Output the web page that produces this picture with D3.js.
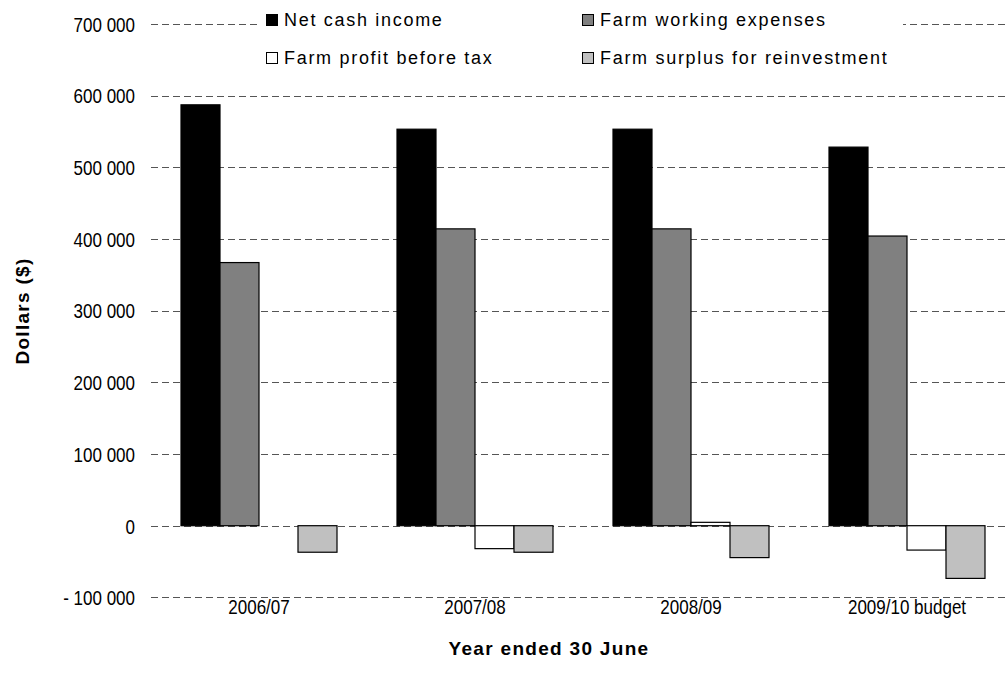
<!DOCTYPE html>
<html>
<head>
<meta charset="utf-8">
<script src="https://cdn.jsdelivr.net/npm/d3@7"></script>
<style>
  html, body { margin: 0; padding: 0; background: #fff; }
  svg { display: block; }
  .tick-label { font-family: "Liberation Sans", Arial, sans-serif; font-size: 21px; fill: #000; }
  .legend-label { font-family: "Liberation Sans", Arial, sans-serif; font-size: 18px; fill: #000; letter-spacing: 1.7px; }
  .axis-title { font-family: "Liberation Sans", Arial, sans-serif; font-size: 19px; font-weight: bold; fill: #000; letter-spacing: 1.3px; }
</style>
</head>
<body>
<script>
// Farm cash results by year
const years = ["2006/07", "2007/08", "2008/09", "2009/10 budget"];
const seriesNames = ["Net cash income", "Farm working expenses", "Farm profit before tax", "Farm surplus for reinvestment"];
const netCashIncome = [587000, 553000, 553000, 528000];
const farmWorkingExpenses = [367000, 414000, 414000, 404000];
const farmProfitBeforeTax = [0, -32000, 4700, -34000];
const farmSurplus = [-37000, -37000, -44500, -73500];
const yTicks = [-100000, 0, 100000, 200000, 300000, 400000, 500000, 600000, 700000];
const seriesColors = ["#000000", "#808080", "#ffffff", "#c0c0c0"];

const seriesValues = [netCashIncome, farmWorkingExpenses, farmProfitBeforeTax, farmSurplus];

const W = 1008, H = 684;
const plot = { left: 151, right: 1015, top: 23.8, bottom: 597.4 };
const narrow = 0.81; // horizontal squeeze for the condensed tick labels

const svg = d3.select("body").append("svg").attr("width", W).attr("height", H);

const y = d3.scaleLinear().domain([-100000, 700000]).range([plot.bottom, plot.top]);
const x0 = d3.scaleBand().domain(years).range([plot.left, plot.right]).paddingInner(60 / 216).paddingOuter(30 / 216);
const x1 = d3.scaleBand().domain(d3.range(seriesNames.length)).range([0, x0.bandwidth()]);

const fmt = v => {
  const s = d3.format(",")(Math.abs(v)).replace(/,/g, " ");
  return v < 0 ? "- " + s : s;
};

// Dashed gridlines
svg.append("g").selectAll("line").data(yTicks).join("line")
  .attr("x1", plot.left).attr("x2", plot.right)
  .attr("y1", d => Math.round(y(d)) + 0.5).attr("y2", d => Math.round(y(d)) + 0.5)
  .attr("stroke", "#555").attr("stroke-width", 1)
  .attr("stroke-dasharray", "7,4");

// Y axis labels
const yAxis = d3.axisLeft(y).tickValues(yTicks).tickFormat(fmt).tickSize(0).tickPadding(0);
const yg = svg.append("g").attr("transform", `translate(135,0)`).call(yAxis);
yg.select(".domain").remove();
yg.selectAll("text").attr("class", "tick-label").attr("font-family", null).attr("font-size", null)
  .attr("dy", "0.35em").attr("transform", `scale(${narrow},1)`);

// Bars
const groups = svg.append("g").selectAll("g").data(years).join("g")
  .attr("transform", d => `translate(${x0(d)},0)`);
groups.selectAll("rect")
  .data((d, i) => seriesValues.map((vals, s) => ({ s, v: vals[i] })).filter(e => e.v !== 0))
  .join("rect")
  .attr("x", d => x1(d.s))
  .attr("width", x1.bandwidth())
  .attr("y", d => Math.min(y(d.v), y(0)))
  .attr("height", d => Math.abs(y(d.v) - y(0)))
  .attr("fill", d => seriesColors[d.s])
  .attr("stroke", "#000")
  .attr("stroke-width", 1.2);

// X axis labels
const xAxis = d3.axisBottom(x0).tickSize(0).tickPadding(0);
const xg = svg.append("g").attr("transform", `translate(0,607)`).call(xAxis);
xg.select(".domain").remove();
xg.selectAll("text").attr("class", "tick-label").attr("font-family", null).attr("font-size", null)
  .attr("dy", "0.35em").attr("transform", `scale(${narrow},1)`);

// Axis titles
svg.append("text").attr("class", "axis-title")
  .attr("transform", "translate(29,311) rotate(-90)")
  .attr("text-anchor", "middle").text("Dollars ($)");
svg.append("text").attr("class", "axis-title")
  .attr("x", 549).attr("y", 655).attr("text-anchor", "middle").text("Year ended 30 June");

// Legend
const legend = svg.append("g");
legend.append("rect").attr("x", 259).attr("y", 4).attr("width", 644).attr("height", 72).attr("fill", "#fff");
const legPos = [[266, 20], [582, 20], [266, 58], [582, 58]];
const items = legend.selectAll("g").data(seriesNames).join("g")
  .attr("transform", (d, i) => `translate(${legPos[i][0]},${legPos[i][1]})`);
items.append("rect").attr("x", 0.5).attr("y", -5.5).attr("width", 11).attr("height", 11)
  .attr("fill", (d, i) => seriesColors[i]).attr("stroke", "#000").attr("stroke-width", 1);
items.append("text").attr("class", "legend-label").attr("x", 18).attr("dy", "0.35em").text(d => d);
</script>
</body>
</html>
